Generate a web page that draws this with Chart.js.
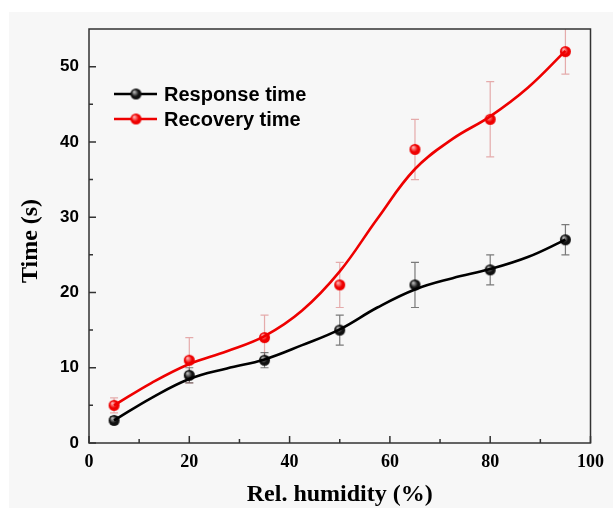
<!DOCTYPE html>
<html>
<head>
<meta charset="utf-8">
<script src="https://cdn.jsdelivr.net/npm/chart.js@4.4.1/dist/chart.umd.min.js"></script>
<style>
  html, body { margin: 0; padding: 0; background: #ffffff; }
  #chart { display: block; }
</style>
</head>
<body>
<canvas id="chart" width="613" height="508"></canvas>
<script>
// Measured points (relative humidity, %)
const humidity = [5, 20, 35, 50, 65, 80, 95];
const responseTime = [3, 9, 11, 15, 21, 23, 27];
const responseErr = [0.5, 1, 1, 2, 3, 2, 2];
const recoveryTime = [5, 11, 14, 21, 39, 43, 52];
const recoveryErr = [1, 3, 3, 3, 4, 5, 3];

// Smoothed fit curves
const fitX = [5, 12.5, 20, 27.5, 35, 42.5, 50, 57.5, 65, 72.5, 80, 87.5, 95];
const responseFit = [3.0, 6.0, 8.5, 9.9, 11.1, 13.0, 15.1, 18.0, 20.4, 21.9, 23.1, 24.7, 27.0];
const recoveryFit = [5.0, 8.0, 10.5, 12.2, 14.2, 17.6, 22.8, 29.8, 36.4, 40.4, 43.4, 47.2, 52.1];

// Axis ticks
const xTicks = [0, 20, 40, 60, 80, 100];
const xMinorTicks = [10, 30, 50, 70, 90];
const yTicks = [0, 10, 20, 30, 40, 50];
const yMinorTicks = [5, 15, 25, 35, 45];

const legendLabels = ['Response time', 'Recovery time'];

// Shaded ball used as a marker
function makeBall(base, light, r) {
    const c = document.createElement('canvas');
    c.width = c.height = r * 2 + 2;
    const g = c.getContext('2d');
    const cx = r + 1, cy = r + 1;
    const grad = g.createRadialGradient(cx - r * 0.35, cy - r * 0.4, r * 0.1, cx, cy, r);
    grad.addColorStop(0, light);
    grad.addColorStop(0.6, base);
    grad.addColorStop(1, base);
    g.fillStyle = grad;
    g.beginPath();
    g.arc(cx, cy, r, 0, Math.PI * 2);
    g.fill();
    return c;
}
const blackBall = makeBall('#111111', '#b8b8b8', 5.5);
const redBall = makeBall('#ee0000', '#ffb0b0', 5.5);

const toXY = (xs, ys) => xs.map((x, i) => ({ x: x, y: ys[i] }));

// Background, frame, inward ticks, error bars, legend, axis titles
const decorPlugin = {
    id: 'decor',
    beforeDraw(chart) {
        const ctx = chart.ctx;
        ctx.save();
        ctx.fillStyle = '#f7f7f7';
        ctx.fillRect(9, 12, chart.width - 9, chart.height - 12);
        ctx.restore();
    },
    beforeDatasetsDraw(chart) {
        const ctx = chart.ctx;
        const xs = chart.scales.x, ys = chart.scales.y;
        const drawBars = (vals, errs, color) => {
            ctx.strokeStyle = color;
            ctx.lineWidth = 1.2;
            humidity.forEach((h, i) => {
                const px = xs.getPixelForValue(h);
                const top = ys.getPixelForValue(Math.min(vals[i] + errs[i], ys.max));
                const bot = ys.getPixelForValue(vals[i] - errs[i]);
                ctx.beginPath();
                ctx.moveTo(px, top); ctx.lineTo(px, bot);
                if (vals[i] + errs[i] < ys.max) {
                    ctx.moveTo(px - 4, top); ctx.lineTo(px + 4, top);
                }
                ctx.moveTo(px - 4, bot); ctx.lineTo(px + 4, bot);
                ctx.stroke();
            });
        };
        ctx.save();
        drawBars(recoveryTime, recoveryErr, 'rgba(215, 110, 110, 0.55)');
        drawBars(responseTime, responseErr, 'rgba(90, 90, 90, 0.8)');
        ctx.restore();
    },
    afterDraw(chart) {
        const ctx = chart.ctx;
        const a = chart.chartArea;
        const xs = chart.scales.x, ys = chart.scales.y;
        ctx.save();
        // frame
        ctx.strokeStyle = '#333333';
        ctx.lineWidth = 1.5;
        ctx.strokeRect(a.left, a.top, a.right - a.left, a.bottom - a.top);
        // inward ticks
        ctx.beginPath();
        xTicks.forEach(v => {
            const px = xs.getPixelForValue(v);
            ctx.moveTo(px, a.bottom); ctx.lineTo(px, a.bottom - 7);
        });
        xMinorTicks.forEach(v => {
            const px = xs.getPixelForValue(v);
            ctx.moveTo(px, a.bottom); ctx.lineTo(px, a.bottom - 4);
        });
        yTicks.forEach(v => {
            const py = ys.getPixelForValue(v);
            ctx.moveTo(a.left, py); ctx.lineTo(a.left + 7, py);
        });
        yMinorTicks.forEach(v => {
            const py = ys.getPixelForValue(v);
            ctx.moveTo(a.left, py); ctx.lineTo(a.left + 4, py);
        });
        ctx.stroke();

        // legend
        const items = [
            { label: legendLabels[0], color: '#000000', ball: blackBall, y: 94 },
            { label: legendLabels[1], color: '#ee0000', ball: redBall, y: 119 }
        ];
        items.forEach(it => {
            ctx.strokeStyle = it.color;
            ctx.lineWidth = 2.5;
            ctx.beginPath();
            ctx.moveTo(114, it.y); ctx.lineTo(157, it.y);
            ctx.stroke();
            ctx.drawImage(it.ball, 136 - it.ball.width / 2, it.y - it.ball.height / 2);
            ctx.fillStyle = '#000000';
            ctx.font = 'bold 20px "Liberation Sans", Arial, sans-serif';
            ctx.textAlign = 'left';
            ctx.textBaseline = 'middle';
            ctx.fillText(it.label, 164, it.y + 1);
        });

        // axis titles
        ctx.fillStyle = '#000000';
        ctx.font = 'bold 24px "Liberation Serif", "Times New Roman", serif';
        ctx.textAlign = 'center';
        ctx.textBaseline = 'middle';
        ctx.fillText('Rel. humidity (%)', (a.left + a.right) / 2, 495);
        ctx.translate(31, 241);
        ctx.rotate(-Math.PI / 2);
        ctx.fillText('Time (s)', 0, 0);
        ctx.restore();
    }
};

const chart = new Chart(document.getElementById('chart'), {
    type: 'line',
    data: {
        datasets: [
            {
                label: 'Response fit',
                data: toXY(fitX, responseFit),
                borderColor: '#000000',
                borderWidth: 2.6,
                pointRadius: 0,
                tension: 0.4,
                fill: false
            },
            {
                label: 'Recovery fit',
                data: toXY(fitX, recoveryFit),
                borderColor: '#ee0000',
                borderWidth: 2.6,
                pointRadius: 0,
                tension: 0.4,
                fill: false
            },
            {
                label: legendLabels[0],
                data: toXY(humidity, responseTime),
                showLine: false,
                pointStyle: blackBall,
                pointRadius: 5
            },
            {
                label: legendLabels[1],
                data: toXY(humidity, recoveryTime),
                showLine: false,
                pointStyle: redBall,
                pointRadius: 5
            }
        ]
    },
    options: {
        responsive: false,
        animation: false,
        devicePixelRatio: 1,
        layout: { padding: { top: 29, right: 15, left: 0, bottom: 0 } },
        plugins: {
            legend: { display: false },
            tooltip: { enabled: false }
        },
        scales: {
            x: {
                type: 'linear',
                min: 0,
                max: 100,
                afterBuildTicks: s => { s.ticks = xTicks.map(v => ({ value: v })); },
                afterFit: s => { s.height = 65; },
                grid: { display: false, drawTicks: false },
                border: { display: false },
                ticks: {
                    padding: 9,
                    color: '#000000',
                    maxRotation: 0,
                    font: { family: '"Liberation Serif", "Times New Roman", serif', size: 18, weight: 'bold' }
                }
            },
            y: {
                type: 'linear',
                min: 0,
                max: 55,
                afterBuildTicks: s => { s.ticks = yTicks.map(v => ({ value: v })); },
                afterFit: s => { s.width = 89; },
                grid: { display: false, drawTicks: false },
                border: { display: false },
                ticks: {
                    padding: 10,
                    color: '#000000',
                    font: { family: '"Liberation Sans", Arial, sans-serif', size: 17, weight: 'bold' }
                }
            }
        }
    },
    plugins: [decorPlugin]
});
</script>
</body>
</html>
